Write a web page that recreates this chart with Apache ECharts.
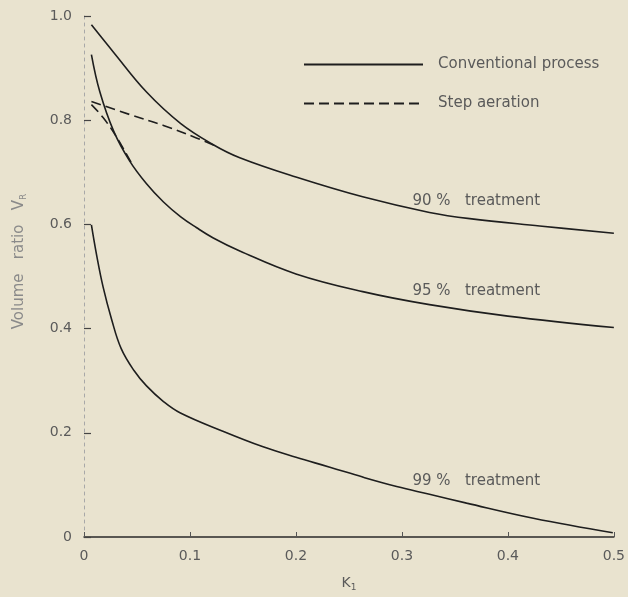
<!DOCTYPE html>
<html>
<head>
<meta charset="utf-8">
<script src="https://cdn.jsdelivr.net/npm/echarts@6/dist/echarts.min.js"></script>
<style>
html,body{margin:0;padding:0;background:#e9e3cf;}
#c{width:628px;height:597px;}
</style>
</head>
<body>
<div id="c"></div>
<script>
// Data: [K1, volume ratio]
const conv90 = [[0.007,0.983],[0.028,0.930],[0.059,0.854],[0.091,0.794],[0.122,0.753],[0.147,0.728],[0.200,0.691],[0.263,0.653],[0.326,0.623],[0.364,0.611],[0.430,0.597],[0.500,0.583]];
const step90 = [[0.007,0.836],[0.043,0.811],[0.075,0.790],[0.106,0.766],[0.125,0.750]];
const conv95 = [[0.007,0.926],[0.015,0.854],[0.028,0.779],[0.043,0.722],[0.059,0.678],[0.075,0.643],[0.091,0.615],[0.106,0.594],[0.122,0.574],[0.147,0.549],[0.200,0.505],[0.263,0.471],[0.326,0.446],[0.400,0.424],[0.500,0.402]];
const step95 = [[0.007,0.830],[0.018,0.805],[0.030,0.770],[0.045,0.717]];
const conv99 = [[0.007,0.599],[0.012,0.540],[0.018,0.480],[0.026,0.418],[0.035,0.362],[0.047,0.320],[0.059,0.290],[0.075,0.260],[0.091,0.238],[0.131,0.203],[0.169,0.173],[0.200,0.153],[0.232,0.134],[0.263,0.115],[0.295,0.097],[0.326,0.082],[0.361,0.065],[0.424,0.036],[0.499,0.008]];
const xTicks = ['0','0.1','0.2','0.3','0.4','0.5'];
const yTicks = ['0','0.2','0.4','0.6','0.8','1.0'];
const curveLabels = [
  {text:'90 %   treatment', at:[0.310,0.645]},
  {text:'95 %   treatment', at:[0.310,0.471]},
  {text:'99 %   treatment', at:[0.310,0.107]}
];

const FONT = 'DejaVu Sans';
const TXT = '#5a5a5a';
const LINE = '#1e1e1e';

function annot(l){
  return {
    symbol:'circle', symbolSize:0, silent:true,
    itemStyle:{color:'rgba(0,0,0,0)', borderWidth:0},
    label:{show:true, position:'right', distance:0, formatter:l.text,
      color:TXT, fontFamily:FONT, fontSize:15},
    data:[{coord:l.at}]
  };
}

function solid(data, lbl){
  return {name:'Conventional process', type:'line', data:data, smooth:0.4, symbol:'none',
    lineStyle:{color:LINE, width:1.6, type:'solid'}, itemStyle:{color:LINE},
    markPoint: annot(lbl), z:3};
}
function dashed(data){
  return {name:'Step aeration', type:'line', data:data, smooth:0.4, symbol:'none',
    lineStyle:{color:LINE, width:1.6, type:[10,5]}, itemStyle:{color:LINE}, z:2};
}

const chart = echarts.init(document.getElementById('c'), null, {renderer:'canvas'});
chart.setOption({
  backgroundColor:'#e9e3cf',
  animation:false,
  grid:{left:84, right:14, top:16, bottom:51, containLabel:false},
  legend:{
    orient:'vertical', left:298, top:52, itemWidth:119, itemHeight:14, itemGap:24,
    selectedMode:false, data:['Conventional process','Step aeration'],
    itemStyle:{opacity:0},
    textStyle:{color:TXT, fontFamily:FONT, fontSize:15, padding:[0,0,0,10]}
  },
  xAxis:{
    type:'value', min:0, max:0.5, interval:0.1,
    name:'{a|K}{b|1}', nameLocation:'middle', nameGap:38,
    nameTextStyle:{rich:{a:{fontFamily:FONT, fontSize:14, color:TXT}, b:{fontFamily:FONT, fontSize:9, color:TXT, verticalAlign:'bottom', padding:[8,0,0,0]}}},
    axisLine:{show:true, lineStyle:{color:'#2a2a2a', width:1.5}},
    axisTick:{show:true, inside:true, length:5, lineStyle:{color:'#555'}},
    axisLabel:{margin:12, color:TXT, fontFamily:FONT, fontSize:14,
      formatter:function(v){return xTicks[Math.round(v*10)];}},
    splitLine:{show:false}
  },
  yAxis:{
    type:'value', min:0, max:1, interval:0.2,
    name:'{a|Volume   ratio   V}{b|R}', nameLocation:'middle', nameGap:56, nameRotate:90,
    nameTextStyle:{rich:{a:{fontFamily:FONT, fontSize:15, color:'#8a8a8a', padding:[0,0,0,30]}, b:{fontFamily:FONT, fontSize:9, color:'#8a8a8a', padding:[8,0,0,0]}}},
    axisLine:{show:true, lineStyle:{color:'#a8a8a8', width:1, type:[3,4]}},
    axisTick:{show:true, inside:true, length:7, lineStyle:{color:'#444', width:1.2}},
    axisLabel:{margin:12, color:TXT, fontFamily:FONT, fontSize:14,
      formatter:function(v){return yTicks[Math.round(v*5)];}},
    splitLine:{show:false}
  },
  series:[
    solid(conv90, curveLabels[0]),
    solid(conv95, curveLabels[1]),
    solid(conv99, curveLabels[2]),
    dashed(step90),
    dashed(step95)
  ]
});
</script>
</body>
</html>
